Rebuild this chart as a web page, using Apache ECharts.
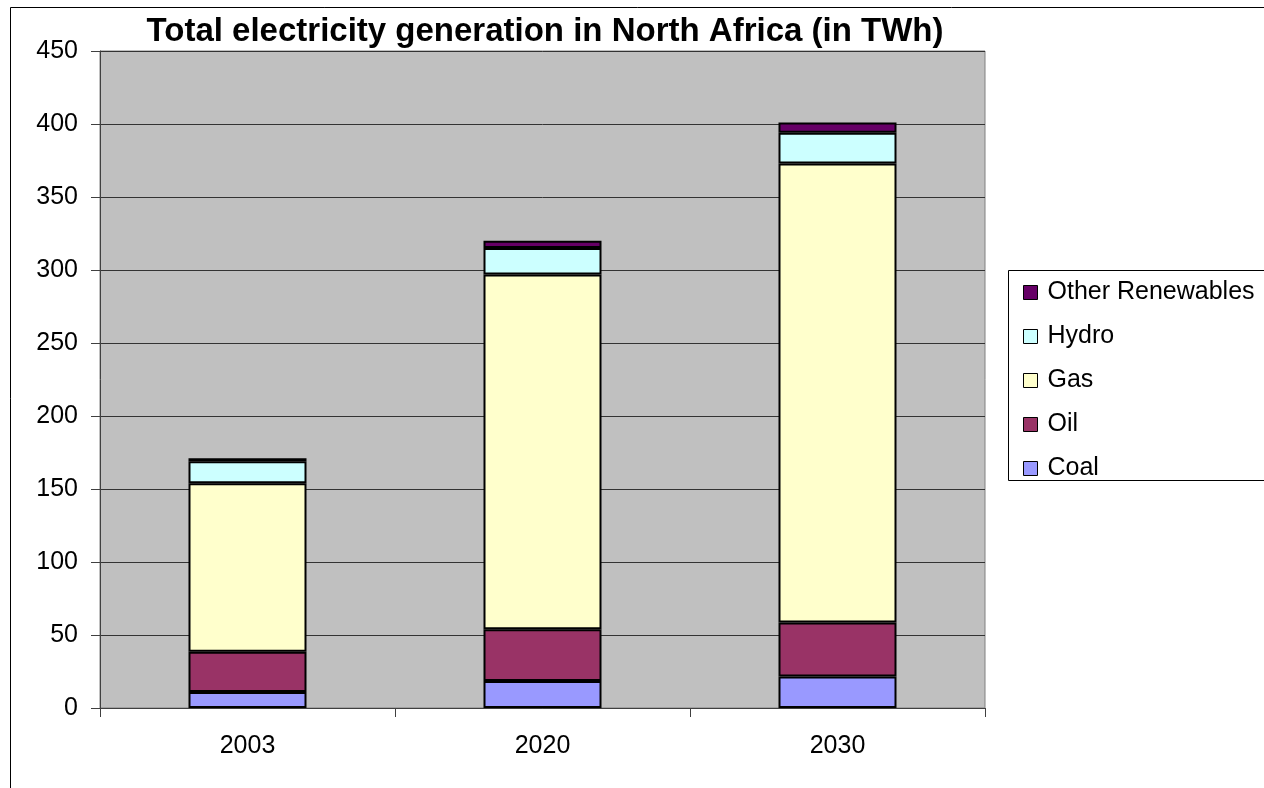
<!DOCTYPE html>
<html>
<head>
<meta charset="utf-8">
<script src="https://cdn.jsdelivr.net/npm/echarts@6/dist/echarts.min.js"></script>
<style>html,body{margin:0;padding:0;background:#fff;}#c{width:1264px;height:788px;}</style>
</head>
<body>
<div id="c"></div>
<script>
const categories = ['2003', '2020', '2030'];
const coal = [11, 18.5, 21.5];
const oil = [27.5, 35.5, 37];
const gas = [115.5, 243, 314.5];
const hydro = [15, 18, 21];
const otherRenewables = [2, 5, 7];
const yTicks = [0, 50, 100, 150, 200, 250, 300, 350, 400, 450];

const font = 'Liberation Sans, Arial, sans-serif';
const colors = {
  'Coal': '#9999FF', 'Oil': '#993366', 'Gas': '#FFFFCC',
  'Hydro': '#CCFFFF', 'Other Renewables': '#660066'
};
const seriesDefs = [
  ['Coal', coal], ['Oil', oil], ['Gas', gas], ['Hydro', hydro], ['Other Renewables', otherRenewables]
];

const chart = echarts.init(document.getElementById('c'), null, {renderer: 'canvas'});
chart.setOption({
  animation: false,
  backgroundColor: '#fff',
  title: {
    text: 'Total electricity generation in North Africa (in TWh)',
    left: 540, top: 10, textAlign: 'center',
    textStyle: {fontFamily: font, fontSize: 33, fontWeight: 'bold', color: '#000'}
  },
  graphic: {
    z: 0,
    elements: [
      {type: 'rect', shape: {x: 10.5, y: 7.5, width: 1400, height: 900}, style: {fill: 'none', stroke: '#000', lineWidth: 1}, silent: true},
      {type: 'rect', shape: {x: 1008.5, y: 270.5, width: 400, height: 210}, style: {fill: '#fff', stroke: '#000', lineWidth: 1}, silent: true}
    ]
  },
  grid: {left: 100, top: 51, right: 279, bottom: 80, show: true, backgroundColor: '#C0C0C0', borderColor: '#808080', borderWidth: 1},
  legend: {
    orient: 'vertical', left: 1018, top: 275, z: 10,
    data: ['Other Renewables', 'Hydro', 'Gas', 'Oil', 'Coal'],
    icon: 'rect', itemWidth: 14, itemHeight: 14, itemGap: 19,
    itemStyle: {borderColor: '#000', borderWidth: 1},
    textStyle: {fontFamily: font, fontSize: 25, color: '#000', lineHeight: 25, padding: [0, 0, 0, 5]}
  },
  xAxis: {
    type: 'category', data: categories, boundaryGap: true,
    axisLine: {lineStyle: {color: '#404040', width: 1}},
    axisTick: {show: true, length: 9, alignWithLabel: false, lineStyle: {color: '#404040'}},
    axisLabel: {fontFamily: font, fontSize: 25, color: '#000', margin: 26},
    splitLine: {show: false}
  },
  yAxis: {
    type: 'value', min: yTicks[0], max: yTicks[yTicks.length - 1], interval: 50,
    axisLine: {show: true, lineStyle: {color: '#404040', width: 1}},
    axisTick: {show: true, length: 9, lineStyle: {color: '#404040'}},
    axisLabel: {fontFamily: font, fontSize: 25, color: '#000', margin: 22},
    splitLine: {show: true, lineStyle: {color: '#333', width: 1}}
  },
  series: seriesDefs.map(([name, vals]) => ({
    name, type: 'bar', stack: 'total', data: vals, barWidth: '40%',
    itemStyle: {color: colors[name], borderColor: '#000', borderWidth: 2}
  }))
});
</script>
</body>
</html>
